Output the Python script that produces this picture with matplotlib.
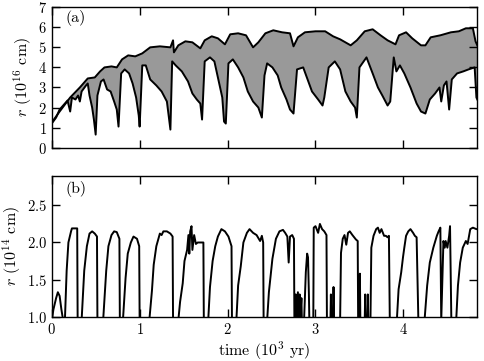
import numpy as np
import matplotlib
matplotlib.use("Agg")
import matplotlib.pyplot as plt

plt.rcParams['font.family'] = ['cmr10', 'DejaVu Serif']
plt.rcParams['mathtext.fontset'] = 'cm'
plt.rcParams['axes.formatter.use_mathtext'] = True
plt.rcParams['font.size'] = 10.5

# panel (a): outer and inner radius of the shell (10^16 cm) vs time (10^3 yr)
t_outer = [0.0, 0.09, 0.21, 0.32, 0.41, 0.49, 0.55, 0.60, 0.68, 0.74, 0.80, 0.87, 0.95,
           1.03, 1.12, 1.23, 1.35, 1.38, 1.39, 1.44, 1.52, 1.60, 1.69, 1.74, 1.82, 1.89,
           1.97, 2.03, 2.12, 2.21, 2.29, 2.35, 2.43, 2.52, 2.62, 2.71, 2.75, 2.80, 2.88,
           3.00, 3.11, 3.20, 3.28, 3.40, 3.47, 3.56, 3.65, 3.74, 3.82, 3.91, 3.95, 4.03,
           4.10, 4.20, 4.25, 4.31, 4.42, 4.54, 4.63, 4.71, 4.79, 4.82, 4.84]
r_outer = [1.25, 1.8, 2.5, 3.0, 3.45, 3.5, 3.8, 4.0, 4.05, 4.0, 4.4, 4.6, 4.55,
           4.7, 5.0, 5.05, 5.0, 5.35, 4.75, 5.1, 5.3, 5.25, 4.95, 5.35, 5.55, 5.45,
           5.15, 5.65, 5.7, 5.6, 5.0, 5.25, 5.7, 5.85, 5.75, 5.7, 5.05, 5.5, 5.75,
           5.8, 5.8, 5.55, 5.4, 5.1, 5.35, 5.8, 5.9, 5.6, 5.35, 5.15, 5.6, 5.75,
           5.45, 5.1, 5.1, 5.5, 5.6, 5.75, 5.8, 5.95, 5.95, 5.3, 5.1]

t_inner = [0.0, 0.05, 0.09, 0.15, 0.18, 0.21, 0.23, 0.27, 0.30, 0.32, 0.34, 0.39, 0.41,
           0.43, 0.46, 0.48, 0.50, 0.52, 0.56, 0.59, 0.63, 0.67, 0.71, 0.74, 0.76, 0.79,
           0.83, 0.88, 0.92, 0.96, 0.99, 1.00, 1.03, 1.07, 1.12, 1.19, 1.25, 1.31, 1.35,
           1.37, 1.41, 1.48, 1.55, 1.60, 1.65, 1.69, 1.71, 1.74, 1.80, 1.85, 1.89, 1.94,
           1.96, 1.98, 2.01, 2.06, 2.12, 2.18, 2.23, 2.29, 2.35, 2.39, 2.42, 2.45, 2.51,
           2.57, 2.61, 2.67, 2.71, 2.75, 2.79, 2.86, 2.91, 2.96, 3.03, 3.08, 3.10, 3.15,
           3.22, 3.28, 3.34, 3.40, 3.45, 3.47, 3.50, 3.58, 3.65, 3.71, 3.76, 3.82, 3.85,
           3.89, 3.92, 3.96, 4.01, 4.08, 4.15, 4.20, 4.25, 4.30, 4.36, 4.41, 4.43, 4.46,
           4.49, 4.52, 4.55, 4.61, 4.68, 4.74, 4.81, 4.83, 4.84]
r_inner = [1.2, 1.5, 1.9, 2.2, 2.35, 1.8, 2.5, 2.4, 2.6, 2.3, 2.8, 3.1, 3.2,
           2.6, 2.0, 1.4, 0.65, 2.6, 3.3, 3.4, 2.9, 2.8, 2.3, 1.9, 1.05, 3.7,
           3.9, 3.7, 3.2, 2.5, 1.6, 1.05, 4.1, 4.1, 3.4, 3.1, 2.8, 2.3, 0.9,
           4.3, 4.1, 3.8, 3.3, 2.7, 2.4, 2.2, 1.4, 4.3, 4.5, 4.3, 3.5, 2.5,
           1.3, 1.2, 4.2, 4.4, 4.0, 3.5, 2.8, 2.3, 2.0, 1.5, 3.6, 4.2, 4.0,
           3.6, 3.0, 2.4, 1.9, 1.7, 3.9, 4.0, 3.4, 2.8, 2.4, 2.1, 2.5, 4.0,
           4.3, 3.9, 2.8, 2.3, 2.0, 1.5, 4.0, 4.5, 3.7, 3.0, 2.6, 2.1, 2.3,
           4.5, 3.8, 4.1, 3.7, 3.0, 2.2, 1.8, 1.7, 2.4, 2.7, 3.0, 2.3, 3.1,
           3.3, 1.9, 3.4, 3.7, 3.8, 3.9, 4.0, 2.5, 2.4]

# panel (b): radius (10^14 cm) vs time (10^3 yr)
t_b = [0.0, 0.02, 0.05, 0.07, 0.09, 0.11, 0.13, 0.15,
       0.17, 0.19, 0.22, 0.23, 0.29, 0.295,
       0.34, 0.37, 0.40, 0.43, 0.46, 0.49, 0.515, 0.52,
       0.585, 0.62, 0.645, 0.68, 0.71, 0.74, 0.77, 0.775,
       0.81, 0.84, 0.865, 0.90, 0.93, 0.97, 0.995, 1.0,
       1.11, 1.14, 1.16, 1.19, 1.23, 1.25, 1.27, 1.31, 1.35, 1.375, 1.38,
       1.44, 1.46, 1.49, 1.51, 1.54, 1.555, 1.565, 1.575, 1.59, 1.60, 1.62, 1.64, 1.66, 1.725, 1.73,
       1.78, 1.80, 1.83, 1.86, 1.89, 1.93, 1.97, 2.01, 2.045, 2.05,
       2.10, 2.12, 2.15, 2.18, 2.22, 2.25, 2.29, 2.33, 2.37, 2.39, 2.405, 2.41,
       2.45, 2.47, 2.51, 2.55, 2.59, 2.63, 2.655, 2.68, 2.695, 2.71, 2.735, 2.755, 2.76,
       2.77, 2.775, 2.78, 2.80, 2.805, 2.82, 2.825, 2.84, 2.845, 2.87,
       2.89, 2.905, 2.915, 2.925, 2.93, 2.975,
       2.98, 3.0, 3.03, 3.05, 3.075, 3.10, 3.125, 3.13,
       3.17, 3.175, 3.18, 3.2, 3.205, 3.21, 3.28,
       3.29, 3.31, 3.33, 3.35, 3.37, 3.39, 3.42, 3.46, 3.48, 3.485,
       3.50, 3.505, 3.51, 3.56, 3.565, 3.57, 3.59, 3.595, 3.60, 3.625,
       3.635, 3.66, 3.69, 3.71, 3.73, 3.75, 3.78, 3.80, 3.82, 3.835, 3.845,
       3.925, 3.945, 3.975, 3.995, 4.01, 4.03, 4.055, 4.08, 4.11, 4.13, 4.15, 4.17,
       4.24, 4.27, 4.30, 4.34, 4.38, 4.40, 4.42, 4.43,
       4.455, 4.47, 4.48, 4.50, 4.52, 4.53, 4.545,
       4.60, 4.62, 4.645, 4.675, 4.71, 4.73, 4.76, 4.79, 4.83, 4.84]
r_b = [0.95, 1.1, 1.25, 1.33, 1.28, 1.1, 0.95, 0.95,
       1.62, 2.0, 2.15, 2.19, 2.19, 0.95,
       0.95, 1.62, 1.95, 2.12, 2.15, 2.12, 2.08, 0.95,
       0.95, 1.62, 1.95, 2.1, 2.15, 2.14, 2.05, 0.95,
       0.95, 1.52, 1.85, 2.0, 2.08, 2.05, 1.95, 0.95,
       0.95, 1.35, 1.7, 1.95, 2.12, 2.1, 2.15, 2.15, 2.12, 2.08, 0.95,
       0.95, 1.2, 1.45, 1.75, 1.9, 2.1, 1.85, 2.15, 2.22, 1.9, 2.1, 1.98, 2.0, 2.0, 0.95,
       0.95, 1.4, 1.75, 1.95, 2.08, 2.18, 2.15, 2.08, 1.95, 0.95,
       0.95, 1.42, 1.68, 2.0, 2.13, 2.18, 2.13, 2.1, 2.02, 2.09, 2.0, 0.95,
       0.95, 1.33, 1.78, 2.05, 2.15, 2.17, 2.13, 2.08, 1.73, 2.08, 2.1, 2.05, 0.95,
       0.95, 1.3, 0.95, 1.33, 0.95, 1.3, 0.95, 1.25, 0.95, 0.95,
       1.6, 1.85, 1.8, 1.3, 0.95, 0.95,
       2.2, 2.22, 2.13, 2.25, 2.18, 2.15, 2.1, 0.95,
       0.95, 1.3, 0.95, 0.95, 1.4, 0.95, 0.95,
       1.86, 2.05, 2.1, 1.97, 2.13, 2.15, 2.1, 2.04, 2.02, 0.95,
       0.95, 1.58, 0.95, 0.95, 1.3, 0.95, 0.95, 1.3, 0.95, 0.95,
       1.93, 2.09, 2.18, 2.2, 2.13, 2.18, 2.09, 2.09, 2.07, 2.09, 0.95,
       0.95, 1.37, 1.6, 1.8, 1.93, 2.09, 2.15, 2.18, 2.13, 2.09, 2.07, 0.95,
       0.95, 1.42, 1.73, 1.93, 2.09, 2.15, 2.2, 0.95,
       2.02, 1.93, 2.02, 1.93, 2.09, 2.22, 0.95,
       0.95, 1.42, 1.73, 1.93, 2.02, 1.98, 2.18, 2.2, 2.18, 2.18]

fig = plt.figure(figsize=(4.85, 3.61), dpi=100)
ax1 = fig.add_axes([0.1066, 0.591, 0.8775, 0.389])
ax2 = fig.add_axes([0.1066, 0.1227, 0.8775, 0.3906])

poly_t = np.concatenate([t_outer, t_inner[::-1]])
poly_r = np.concatenate([r_outer, r_inner[::-1]])
ax1.fill(poly_t, poly_r, color='#999999', lw=0)
ax1.plot(t_outer, r_outer, color='black', lw=1.4)
ax1.plot(t_inner, r_inner, color='black', lw=1.4)
ax1.set_xlim(0, 4.84)
ax1.set_ylim(0, 7)
ax1.set_xticks([0, 1, 2, 3, 4])
ax1.set_xticklabels([])
ax1.set_yticks(range(8))
ax1.set_ylabel(r'$r$ ($10^{16}$ cm)', fontsize=11.5, labelpad=3)
ax1.text(0.057, 0.92, '(a)', transform=ax1.transAxes, ha='center', va='center', fontsize=11.5)

ax2.plot(t_b, r_b, color='black', lw=1.4)
ax2.set_xlim(0, 4.84)
ax2.set_ylim(1.0, 2.9)
ax2.set_xticks([0, 1, 2, 3, 4])
ax2.set_yticks([1.0, 1.5, 2.0, 2.5])
ax2.set_ylabel(r'$r$ ($10^{14}$ cm)', fontsize=11.5, labelpad=3)
ax2.set_xlabel(r'time ($10^3$ yr)', fontsize=11.5, labelpad=2)
ax2.text(0.057, 0.905, '(b)', transform=ax2.transAxes, ha='center', va='center', fontsize=11.5)

for ax in (ax1, ax2):
    ax.tick_params(direction='in', top=True, right=True, length=6, width=1, labelsize=10.5)
    for s in ax.spines.values():
        s.set_linewidth(1)

fig.savefig('out.png', dpi=100)
